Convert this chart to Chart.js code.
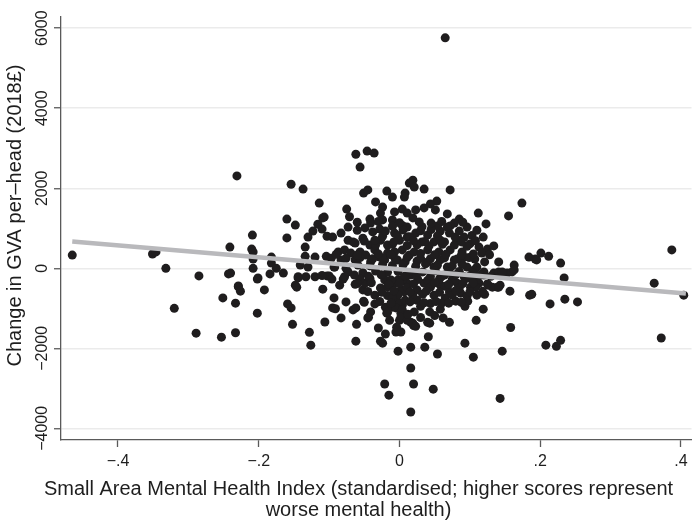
<!DOCTYPE html>
<html><head><meta charset="utf-8">
<script src="https://cdn.jsdelivr.net/npm/chart.js@4/dist/chart.umd.min.js"></script>
<style>html,body{margin:0;padding:0;background:#fff;}#wrap{width:696px;height:523px;}</style>
</head><body><div id="wrap"><canvas id="c" width="696" height="523"></canvas></div>
<script>
const xTickValues = [-0.4, -0.2, 0, 0.2, 0.4];
const xTickLabels = ['−.4', '−.2', '0', '.2', '.4'];
const yTickValues = [-4000, -2000, 0, 2000, 4000, 6000];
const yTickLabels = ['−4000', '−2000', '0', '2000', '4000', '6000'];
const xTitleLines = ['Small Area Mental Health Index (standardised; higher scores represent', 'worse mental health)'];
const yTitleText = 'Change in GVA per–head (2018£)';
const fitX = [-0.465, 0.407];
const fitY = [670, -630];
// [mental health index, change in GVA per head]
const observations = [
[-0.465,330],[-0.351,357],[-0.346,410],[-0.332,0],[-0.320,-1000],[-0.289,-1620],[-0.285,-190],[-0.253,-1720],
[-0.251,-740],[-0.243,-140],[-0.233,-870],[-0.233,-1610],[-0.229,-460],[-0.231,2310],[-0.241,530],
[-0.062,2850],[-0.046,2930],[-0.036,2880],[-0.056,2530],[-0.154,2100],[-0.137,1980],[-0.051,1880],[-0.045,1960],
[-0.018,1930],[-0.010,1780],[-0.034,1660],[-0.114,1630],[-0.075,1480],[-0.024,1530],[-0.160,1230],[-0.148,1080],
[-0.107,1280],[-0.116,1100],[-0.110,980],[-0.123,930],[-0.130,780],[-0.209,830],[-0.160,760],[-0.210,480],
[-0.208,410],[-0.134,530],[-0.103,800],[-0.095,780],[-0.083,880],[-0.073,1030],[-0.073,700],[-0.066,660],
[-0.182,280],[-0.182,130],[-0.175,0],[-0.208,230],[-0.208,0],[-0.141,80],[-0.134,300],[-0.120,280],[-0.104,300],
[-0.240,-120],[-0.201,-240],[-0.184,-140],[-0.165,-120],[-0.144,-210],[-0.133,-210],[-0.120,-210],[-0.100,-190],
[-0.093,30],[0.008,1880],[0.007,1780],[0.014,2130],[-0.071,1290],[-0.027,1380],[-0.024,1210],[-0.007,1410],
[0.004,1480],[0.011,1380],[-0.010,1210],[-0.042,1230],[-0.041,1130],[-0.049,1010],[-0.038,910],[-0.028,980],
[-0.109,1260],[-0.007,880],[0.011,1030],[-0.063,630],[-0.052,750],[-0.042,580],[-0.027,700],[-0.017,580],
[0.000,700],[0.011,780],[-0.087,410],[-0.078,460],[-0.069,380],[-0.056,410],[-0.048,330],[-0.035,460],
[-0.028,280],[-0.017,380],[-0.007,410],[0.004,460],[0.014,330],[-0.097,250],[-0.083,210],[-0.063,210],
[-0.041,160],[-0.021,210],[-0.003,210],[0.008,160],[-0.130,30],[-0.092,30],[-0.076,0],
[0.019,2200],[0.021,2030],[0.035,1980],[0.072,1960],[0.174,1630],[0.155,1310],[0.112,1380],[0.123,1110],
[0.053,1680],[0.044,1610],[0.035,1510],[0.023,1460],[0.051,1460],[0.019,1260],[0.068,1360],[0.085,1230],
[0.078,1130],[0.072,1060],[0.096,1030],[0.058,930],[0.071,880],[0.040,830],[0.023,880],[0.119,780],
[0.092,780],[0.100,610],[0.083,700],[0.064,660],[0.049,660],[0.032,660],[0.113,530],[0.125,480],[0.134,560],
[0.117,380],[0.089,410],[0.072,460],[0.056,410],[0.040,460],[0.021,410],[0.184,280],[0.141,160],[0.163,80],
[0.107,230],[0.121,160],[0.092,280],[0.078,210],[0.058,210],[0.040,160],[0.025,180],[0.110,30],[0.096,30],
[0.068,30],[0.049,30],[0.193,230],[0.201,380],[0.212,300],[0.229,130],[0.234,-240],[0.195,210],
[0.214,-890],[0.235,-770],[0.253,-840],[0.208,-1920],[0.223,-1950],[0.229,-1800],[0.362,-370],[0.372,-1740],
[0.387,460],[0.404,-670],[0.185,-670],[0.188,-650],[0.157,-570],[0.158,-1480],[0.109,-1300],[0.119,-1020],
[0.093,-1870],[0.105,-2220],[0.146,-2070],[0.143,-3250],[0.071,-1350],[0.062,-1240],[0.041,-1710],[0.036,-1970],
[0.054,-2140],[0.016,-1970],[-0.002,-2070],[0.016,-2490],[0.020,-2890],[0.048,-3020],[0.016,-3590],[0.040,-1350],
[0.043,-1370],[0.020,-1430],[0.016,-1350],[0.002,-1590],[0.021,-1090],[0.043,-1090],[0.058,-1020],[0.080,-820],
[0.093,-950],[0.097,-820],[0.110,-670],[0.121,-650],[0.126,-420],[0.139,-470],[0.143,-420],[0.000,-1300],
[0.004,-920],[0.007,-590],[0.025,-800],[0.044,-880],[0.065,-740],[0.087,-620],[0.025,-540],[0.049,-670],
[0.071,-590],[0.101,-470],[0.113,-370],[0.011,-370],[0.035,-370],[0.058,-420],[0.082,-370],[0.092,-210],
[0.120,-170],[0.134,-120],[0.153,-120],[0.160,-90],[-0.002,-290],[0.016,-170],[0.044,-210],[0.064,-170],
[-0.229,-440],[-0.226,-570],[-0.202,-270],[-0.192,-540],[-0.202,-1120],[-0.159,-890],[-0.154,-990],[-0.152,-1400],
[-0.128,-1600],[-0.126,-1920],[-0.109,-520],[-0.106,-1340],[-0.093,-740],[-0.095,-990],[-0.091,-1010],[-0.083,-1240],
[-0.076,-840],[-0.066,-1040],[-0.062,-990],[-0.061,-1400],[-0.062,-1820],[-0.051,-820],[-0.045,-1240],[-0.041,-1090],
[-0.035,-890],[-0.030,-1490],[-0.020,-970],[-0.018,-1120],[-0.014,-1300],[-0.027,-1820],[-0.024,-1870],[-0.020,-1640],
[-0.005,-1590],[-0.004,-1470],[-0.021,-2890],[-0.015,-3170],[-0.103,-190],[-0.096,-270],[-0.085,-420],[-0.080,-270],
[-0.063,-400],[-0.052,-540],[-0.035,-670],[-0.027,-490],[-0.021,-290],[-0.007,-370],[0.002,-540],[-0.002,-840],
[0.002,-1120],[-0.049,-370],[-0.078,-210],[-0.148,-420],[-0.144,-240],[-0.146,-470],[-0.044,-1220],[-0.017,-1100],
[-0.010,-970],[-0.005,-990],[0.004,-1040],[0.002,-1220],[0.011,-1300],[0.008,-800],[0.019,-1370],[0.023,-1450],
[0.132,-470],[0.141,-470],[0.141,-90],[0.146,-90],[0.163,-40],[0.120,-90],[0.106,-40],[0.065,5760],
[-0.059,80],[-0.042,60],[-0.024,100],[-0.010,70],[0.005,90],[0.023,50],[0.037,110],[0.054,80],[0.075,60],[0.089,100],
[-0.073,-90],[-0.052,-110],[-0.034,-70],[-0.017,-100],[-0.002,-80],[0.015,-120],[0.033,-90],[0.051,-60],[0.071,-100],[0.085,-80],[0.104,-110],
[-0.056,-270],[-0.042,-250],[-0.012,-290],[0.005,-260],[0.026,-280],[0.040,-300],[0.057,-260],[0.075,-280],[0.096,-250],[0.110,-290],
[-0.017,-460],[0.011,-480],[0.044,-470],[0.065,-450],[0.085,-490],[0.108,-470],
[-0.017,-680],[-0.002,-660],[0.019,-690],[0.033,-650],[0.075,-670],[0.096,-700],
[-0.076,250],[-0.056,270],[-0.038,240],[-0.024,260],[-0.006,230],[0.011,270],[0.030,250],[0.044,240],[0.064,260],[0.082,230],[0.099,270],
[-0.034,580],[-0.010,600],[0.011,570],[0.025,590],[0.042,560],[0.061,600],[0.078,580],[0.096,550],
[-0.024,800],[-0.003,820],[0.014,790],[0.054,810],[0.079,780],[0.103,820],
[-0.010,1050],[0.004,1070],[0.032,1040],[0.054,1060],[0.068,1030],
[-0.010,-750],[0.030,-950],[0.060,-870],[0.012,-1150],[0.050,-1180],[0.030,-1230],
[-0.090,350],[-0.060,330],[-0.030,360],[-0.012,340],[0.030,370],[0.050,340],[0.066,350],[0.088,330],[0.105,360],[0.128,340],
[-0.110,-180],[-0.064,-170],[-0.044,-200],[-0.026,-160],[0.008,-190],[0.024,-170],[0.060,-200],[0.080,-160],[0.100,-190],[0.115,-170],[0.130,-200],
[-0.060,-380],[-0.040,-360],[-0.015,-400],[0.000,-370],[0.020,-390],[0.050,-360],[0.070,-400],[0.090,-380],[0.105,-360],[0.125,-390],
[-0.045,-580],[-0.025,-600],[-0.008,-560],[0.015,-590],[0.038,-570],[0.057,-600],[0.080,-560],[0.100,-590],[0.118,-570],
[-0.050,-850],[-0.028,-830],[-0.012,-870],[0.015,-840],[0.035,-860],[0.052,-830],[0.070,-870],[0.088,-850],
[-0.050,680],[-0.035,700],[-0.008,660],[0.020,690],[0.036,670],[0.058,700],[0.088,660],[0.108,690],
[-0.060,950],[-0.020,930],[0.005,960],[0.030,940],[0.045,970],[0.085,930],[0.110,950],
[-0.060,1150],[-0.030,1170],[0.000,1140],[0.028,1160],[0.045,1130],[0.060,1170],[0.090,1150]
];

const FONT = '"Liberation Sans", Arial, Helvetica, sans-serif';
const TEXT = '#1e1e1e';
const AXIS = '#5a5a5a';

const axisTitles = {
  id: 'axisTitles',
  afterDraw(chart) {
    const ctx = chart.ctx;
    ctx.save();
    ctx.fillStyle = TEXT;
    ctx.font = '20px ' + FONT;
    ctx.textAlign = 'center';
    ctx.textBaseline = 'middle';
    ctx.fillText(xTitleLines[0], 358.5, 489);
    ctx.fillText(xTitleLines[1], 358.5, 510.5);
    ctx.translate(15, 215.5);
    ctx.rotate(-Math.PI / 2);
    ctx.fillText(yTitleText, 0, 0);
    ctx.restore();
  }
};

new Chart(document.getElementById('c'), {
  type: 'scatter',
  data: {
    datasets: [
      {
        type: 'scatter',
        showLine: true,
        data: fitX.map((x, i) => ({x: x, y: fitY[i]})),
        borderColor: '#b9b9bc',
        borderWidth: 4.5,
        pointRadius: 0,
        fill: false
      },
      {
        data: observations.map(p => ({x: p[0], y: p[1]})),
        backgroundColor: '#1f1d1e',
        borderWidth: 0,
        pointRadius: 4.5,
        pointHoverRadius: 4.5
      }
    ]
  },
  options: {
    responsive: false,
    animation: false,
    devicePixelRatio: 1,
    layout: {padding: {top: 17, left: 0, right: 0, bottom: 0}},
    plugins: {legend: {display: false}, tooltip: {enabled: false}},
    scales: {
      x: {
        type: 'linear',
        min: -0.481,
        max: 0.415,
        afterBuildTicks: s => { s.ticks = xTickValues.map(v => ({value: v})); },
        afterFit: s => { s.height = 83; },
        ticks: {
          autoSkip: false, minRotation: 0, maxRotation: 0, padding: 5,
          font: {family: FONT, size: 16}, color: TEXT,
          callback: v => xTickLabels[xTickValues.indexOf(v)]
        },
        grid: {drawOnChartArea: false, drawTicks: true, tickLength: 7, tickColor: AXIS, tickWidth: 1.3},
        border: {display: true, color: AXIS, width: 1.3}
      },
      y: {
        type: 'linear',
        min: -4290,
        max: 6280,
        afterBuildTicks: s => { s.ticks = yTickValues.map(v => ({value: v})); },
        afterFit: s => { s.width = 61; },
        ticks: {
          autoSkip: false, minRotation: 90, maxRotation: 90, crossAlign: 'center', padding: -11,
          font: {family: FONT, size: 16}, color: TEXT,
          callback: v => yTickLabels[yTickValues.indexOf(v)]
        },
        grid: {color: '#ebebeb', lineWidth: 1.5, drawTicks: true, tickLength: 7, tickColor: AXIS, tickWidth: 1.3},
        border: {display: true, color: AXIS, width: 1.3}
      }
    }
  },
  plugins: [axisTitles]
});
</script></body></html>
